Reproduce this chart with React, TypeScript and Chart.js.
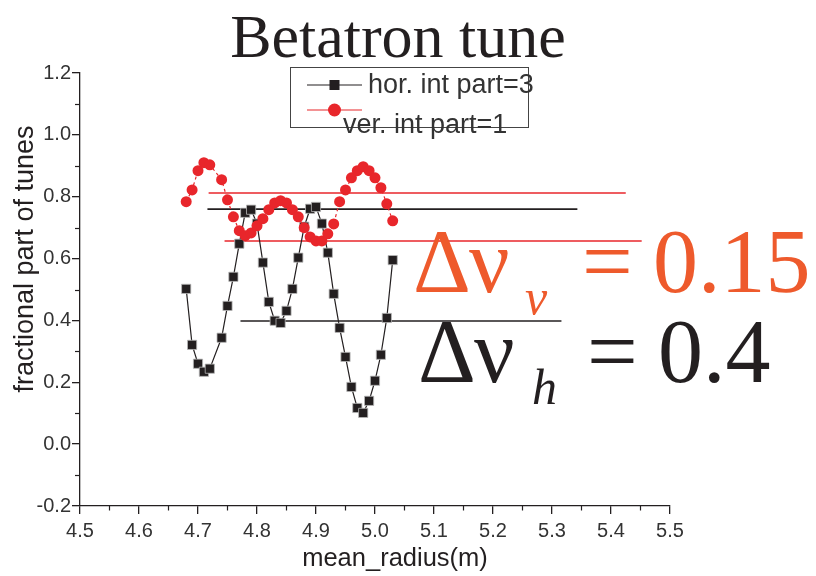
import React, { useEffect, useRef } from 'react';
import { Chart, registerables } from 'chart.js';

Chart.register(...registerables);

// mean radius (m) of each sampled orbit
const radius = [
  4.68, 4.69, 4.7, 4.71, 4.72, 4.74, 4.75, 4.76, 4.77, 4.78, 4.79, 4.8, 4.81, 4.82, 4.83, 4.84, 4.85, 4.86,
  4.87, 4.88, 4.89, 4.9, 4.91, 4.92, 4.93, 4.94, 4.95, 4.96, 4.97, 4.98, 4.99, 5.0, 5.01, 5.02, 5.03,
];

// fractional horizontal tune (integer part = 3)
const horTune = [
  0.502, 0.321, 0.26, 0.234, 0.244, 0.344, 0.447, 0.541, 0.648, 0.748, 0.758, 0.713, 0.587, 0.46, 0.399,
  0.392, 0.431, 0.502, 0.603, 0.703, 0.761, 0.767, 0.713, 0.619, 0.486, 0.376, 0.282, 0.185, 0.117, 0.101,
  0.14, 0.205, 0.289, 0.408, 0.595,
];

// fractional vertical tune (integer part = 1)
const verTune = [
  0.784, 0.822, 0.884, 0.91, 0.903, 0.855, 0.79, 0.735, 0.69, 0.674, 0.683, 0.706, 0.729, 0.758, 0.78,
  0.787, 0.78, 0.758, 0.735, 0.7, 0.67, 0.657, 0.657, 0.68, 0.712, 0.784, 0.822, 0.861, 0.884, 0.897,
  0.884, 0.861, 0.829, 0.777, 0.722,
];

// envelope guide lines: [xStart, xEnd], level
const verUpperSpan = [4.718, 5.425];
const verUpperLevel = 0.812;
const verLowerSpan = [4.745, 5.452];
const verLowerLevel = 0.657;
const horUpperSpan = [4.716, 5.343];
const horUpperLevel = 0.76;
const horLowerSpan = [4.772, 5.316];
const horLowerLevel = 0.398;

const xTicks = { min: 4.5, max: 5.5, step: 0.1 };
const yTicks = { min: -0.2, max: 1.2, step: 0.2 };

const titleText = 'Betatron tune';
const xTitle = 'mean_radius(m)';
const yTitle = 'fractional part of tunes';
const horLabel = 'hor. int part=3';
const verLabel = 'ver. int part=1';
const dvV = '0.15';
const dvH = '0.4';

const INK = '#231F20';
const RED = '#E8262B';
const ORANGE = '#EE5A2C';
const SANS = '"Liberation Sans", Arial, sans-serif';
const SERIF = '"Liberation Serif", "Times New Roman", serif';

const toPoints = (xs: number[], ys: number[]) => xs.map((x, i) => ({ x, y: ys[i] }));
const hLine = (span: number[], level: number) => [
  { x: span[0], y: level },
  { x: span[1], y: level },
];
const fmt = (v: any) => {
  const n = Number(v);
  return (Math.abs(n) < 1e-9 ? 0 : n).toFixed(1);
};

const decorPlugin = {
  id: 'decor',
  afterDraw(chart: any) {
    const { ctx, chartArea } = chart;
    const xs = chart.scales.x;
    const ys = chart.scales.y;
    ctx.save();

    // minor ticks
    ctx.strokeStyle = INK;
    ctx.lineWidth = 1.2;
    for (let v = xTicks.min + xTicks.step / 2; v < xTicks.max; v += xTicks.step) {
      const px = Math.round(xs.getPixelForValue(v)) + 0.5;
      ctx.beginPath();
      ctx.moveTo(px, chartArea.bottom);
      ctx.lineTo(px, chartArea.bottom + 4.5);
      ctx.stroke();
    }
    for (let v = yTicks.min + yTicks.step / 2; v < yTicks.max; v += yTicks.step) {
      const py = Math.round(ys.getPixelForValue(v)) + 0.5;
      ctx.beginPath();
      ctx.moveTo(chartArea.left, py);
      ctx.lineTo(chartArea.left - 5, py);
      ctx.stroke();
    }

    // chart title
    ctx.fillStyle = INK;
    ctx.font = `62px ${SERIF}`;
    ctx.textAlign = 'center';
    ctx.textBaseline = 'alphabetic';
    ctx.fillText(titleText, 398, 57);

    // axis titles
    ctx.font = `25.5px ${SANS}`;
    ctx.fillText(xTitle, 395, 566);
    ctx.save();
    ctx.translate(26, 259);
    ctx.rotate(-Math.PI / 2);
    ctx.textBaseline = 'middle';
    ctx.font = `27px ${SANS}`;
    ctx.fillText(yTitle, 0, 0);
    ctx.restore();

    // legend
    ctx.strokeStyle = '#444';
    ctx.lineWidth = 1;
    ctx.strokeRect(290.5, 67.5, 238, 60);
    ctx.lineWidth = 1.2;
    ctx.strokeStyle = INK;
    ctx.beginPath();
    ctx.moveTo(307, 85);
    ctx.lineTo(362, 85);
    ctx.stroke();
    ctx.fillStyle = INK;
    ctx.fillRect(329.5, 80, 10, 10);
    ctx.strokeStyle = RED;
    ctx.beginPath();
    ctx.moveTo(307, 110);
    ctx.lineTo(362, 110);
    ctx.stroke();
    ctx.fillStyle = RED;
    ctx.beginPath();
    ctx.arc(334.5, 110, 6.5, 0, Math.PI * 2);
    ctx.fill();
    ctx.fillStyle = '#333';
    ctx.font = `27px ${SANS}`;
    ctx.textAlign = 'left';
    ctx.textBaseline = 'alphabetic';
    ctx.fillText(horLabel, 368, 93);
    ctx.fillText(verLabel, 343, 133);

    // tune-spread annotations
    const drawDelta = (color: string, base: number, sub: string, subX: number, value: string, x0: number) => {
      ctx.fillStyle = color;
      ctx.font = `90px ${SERIF}`;
      ctx.fillText('\u0394', x0, base);
      ctx.fillText('\u03BD', x0 + 56, base);
      ctx.font = `italic 50px ${SERIF}`;
      ctx.fillText(sub, subX, base + 22);
      ctx.font = `90px ${SERIF}`;
      ctx.fillText('=', x0 + 169, base);
      ctx.fillText(value, x0 + 240, base);
    };
    drawDelta(ORANGE, 292, 'v', 525, dvV, 413);
    drawDelta(INK, 382, 'h', 532, dvH, 418);

    ctx.restore();
  },
};

export default function App() {
  const canvasRef = useRef<HTMLCanvasElement | null>(null);

  useEffect(() => {
    if (!canvasRef.current) return;
    const tickFont = { family: SANS, size: 20 };
    const chart = new Chart(canvasRef.current, {
      type: 'line',
      data: {
        datasets: [
          {
            label: verLabel,
            data: toPoints(radius, verTune),
            borderColor: RED,
            borderWidth: 1.2,
            borderDash: [3, 3],
            pointStyle: 'circle',
            pointRadius: 5.5,
            pointBackgroundColor: RED,
            pointBorderColor: RED,
            pointBorderWidth: 0,
            order: 1,
          },
          {
            label: horLabel,
            data: toPoints(radius, horTune),
            borderColor: INK,
            borderWidth: 1.2,
            pointStyle: 'rect',
            pointRadius: 6.5,
            pointBackgroundColor: INK,
            pointBorderColor: '#b8b8b8',
            pointBorderWidth: 0.8,
            order: 2,
          },
          {
            label: 'ver upper',
            data: hLine(verUpperSpan, verUpperLevel),
            borderColor: RED,
            borderWidth: 1.6,
            pointRadius: 0,
            order: 3,
          },
          {
            label: 'ver lower',
            data: hLine(verLowerSpan, verLowerLevel),
            borderColor: RED,
            borderWidth: 1.6,
            pointRadius: 0,
            order: 3,
          },
          {
            label: 'hor upper',
            data: hLine(horUpperSpan, horUpperLevel),
            borderColor: INK,
            borderWidth: 1.6,
            pointRadius: 0,
            order: 3,
          },
          {
            label: 'hor lower',
            data: hLine(horLowerSpan, horLowerLevel),
            borderColor: INK,
            borderWidth: 1.6,
            pointRadius: 0,
            order: 3,
          },
        ],
      },
      options: {
        responsive: false,
        maintainAspectRatio: false,
        animation: false,
        devicePixelRatio: 1,
        layout: { padding: { top: 73, right: 146, bottom: 0, left: 0 } },
        plugins: {
          legend: { display: false },
          title: { display: false },
          tooltip: { enabled: false },
        },
        scales: {
          x: {
            type: 'linear',
            min: xTicks.min,
            max: xTicks.max,
            afterFit: (s: any) => {
              s.height = 70;
            },
            ticks: {
              stepSize: xTicks.step,
              autoSkip: false,
              maxRotation: 0,
              padding: 5,
              color: '#333',
              font: tickFont,
              callback: fmt,
            },
            grid: { drawOnChartArea: false, tickLength: 8, color: INK, lineWidth: 1.3 },
            border: { display: true, color: INK, width: 1.3 },
          },
          y: {
            type: 'linear',
            min: yTicks.min,
            max: yTicks.max,
            afterFit: (s: any) => {
              s.width = 80;
            },
            ticks: {
              stepSize: yTicks.step,
              autoSkip: false,
              padding: 1,
              color: '#333',
              font: tickFont,
              callback: fmt,
            },
            grid: { drawOnChartArea: false, tickLength: 8, color: INK, lineWidth: 1.3 },
            border: { display: true, color: INK, width: 1.3 },
          },
        },
      },
      plugins: [decorPlugin],
    } as any);
    return () => chart.destroy();
  }, []);

  return (
    <div style={{ position: 'absolute', left: 0, top: 0, width: 816, height: 576, background: '#fff' }}>
      <canvas ref={canvasRef} width={816} height={576} />
    </div>
  );
}
